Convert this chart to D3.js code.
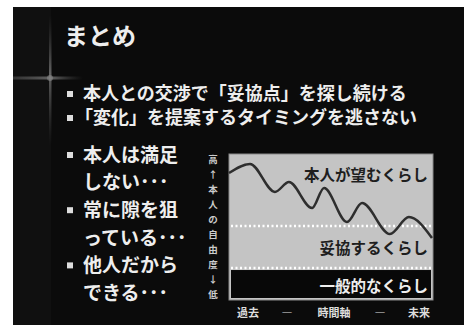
<!DOCTYPE html>
<html>
<head>
<meta charset="utf-8">
<script src="https://cdn.jsdelivr.net/npm/d3@7"></script>
<style>
  html, body { margin: 0; padding: 0; background: #fff; }
  svg { display: block; }
</style>
</head>
<body>
<div id="chart"></div>
<script>
// slide text
const titleText = 'まとめ';
const topBullets = ['本人との交渉で「妥協点」を探し続ける', '「変化」を提案するタイミングを逃さない'];
const sideLines = ['本人は満足', 'しない･･･', '常に隙を狙', 'っている･･･', '他人だから', 'できる･･･'];
const sideBullet = [true, false, true, false, true, false];

// chart: freedom of the person over time
const timeValues    = [0, 10.3, 22.5, 29.4, 40.7, 46.6, 57.8, 65.2, 78.9, 88.2, 99.5];
const freedomValues = [87, 93.2, 74, 80.8, 63, 76.7, 53.4, 66.4, 45.2, 56.8, 42.5];
const bandLevels = [50.7, 21.9];
const bandLabels = ['本人が望むくらし', '妥協するくらし', '一般的なくらし'];
const bandLabelLevels = [85, 35, 9];
const xAxisLabels = ['過去', '―', '時間軸', '―', '未来'];
const xAxisLabelTimes = [9.3, 28.4, 51.5, 74, 93.1];
const yAxisChars = ['高', '↑', '本', '人', 'の', '自', '由', '度', '↓', '低'];

const W = 464, H = 328;
const font = '"Noto Sans CJK JP", "Noto Sans", sans-serif';

const svg = d3.select('#chart').append('svg')
    .attr('width', W)
    .attr('height', H)
    .style('font-family', font);

// slide background
svg.append('rect').attr('x', 13).attr('y', 7).attr('width', W - 13).attr('height', 318).attr('fill', '#0b0b0b');
svg.append('rect').attr('x', 13).attr('y', 7).attr('width', 38).attr('height', 318).attr('fill', '#101010');

// lens flare cross
const defs = svg.append('defs');
const gh = defs.append('linearGradient').attr('id', 'gh').attr('x1', 0).attr('x2', 1).attr('y1', 0).attr('y2', 0);
gh.append('stop').attr('offset', 0).attr('stop-color', '#555').attr('stop-opacity', 0.5);
gh.append('stop').attr('offset', 0.55).attr('stop-color', '#777').attr('stop-opacity', 0.8);
gh.append('stop').attr('offset', 1).attr('stop-color', '#444').attr('stop-opacity', 0);
const gv = defs.append('linearGradient').attr('id', 'gv').attr('x1', 0).attr('x2', 0).attr('y1', 0).attr('y2', 1);
gv.append('stop').attr('offset', 0).attr('stop-color', '#444').attr('stop-opacity', 0);
gv.append('stop').attr('offset', 0.45).attr('stop-color', '#777').attr('stop-opacity', 0.8);
gv.append('stop').attr('offset', 1).attr('stop-color', '#444').attr('stop-opacity', 0);
svg.append('rect').attr('x', 13).attr('y', 76.5).attr('width', 70).attr('height', 3).attr('fill', 'url(#gh)');
svg.append('rect').attr('x', 49).attr('y', 15).attr('width', 2.5).attr('height', 130).attr('fill', 'url(#gv)');
svg.append('circle').attr('cx', 50).attr('cy', 78).attr('r', 3).attr('fill', '#888').attr('opacity', 0.6);

// title
svg.append('text')
    .attr('x', 64).attr('y', 45)
    .attr('fill', '#eee')
    .attr('font-size', 24).attr('font-weight', 'bold')
    .text(titleText);

// bullets
const bulletText = svg.append('g').attr('fill', '#eee').attr('font-weight', 'bold');
topBullets.forEach((t, i) => {
    const y = 94 + i * 24;
    bulletText.append('rect').attr('x', 67).attr('y', y - 3).attr('width', 6).attr('height', 6).attr('fill', '#ddd');
    bulletText.append('text')
        .attr('x', i === 0 ? 83 : 75).attr('y', y)
        .attr('dy', '0.36em')
        .attr('font-size', 18)
        .text(t);
});
sideLines.forEach((t, i) => {
    const y = 155 + i * 27.6;
    if (sideBullet[i]) {
        bulletText.append('rect').attr('x', 67).attr('y', y - 3).attr('width', 6).attr('height', 6).attr('fill', '#ddd');
    }
    bulletText.append('text')
        .attr('x', 83).attr('y', y)
        .attr('dy', '0.36em')
        .attr('font-size', 19)
        .text(t);
});

// chart
const plot = {left: 229, right: 433, top: 154, bottom: 300};
const x = d3.scaleLinear().domain([0, 100]).range([plot.left, plot.right]);
const y = d3.scaleLinear().domain([0, 100]).range([plot.bottom, plot.top]);

const chart = svg.append('g');
chart.append('rect')
    .attr('x', x(0)).attr('y', y(100))
    .attr('width', x(100) - x(0)).attr('height', y(0) - y(100))
    .attr('fill', '#c4c4c4')
    .attr('stroke', '#8a8a8a').attr('stroke-width', 1);
chart.append('rect')
    .attr('x', x(0) + 2).attr('y', y(bandLevels[1]) + 2)
    .attr('width', x(100) - x(0) - 4).attr('height', y(0) - y(bandLevels[1]) - 4)
    .attr('fill', '#080808');

chart.selectAll('line.level')
    .data(bandLevels)
    .join('line')
    .attr('class', 'level')
    .attr('x1', x(0) + 2).attr('x2', x(100) - 2)
    .attr('y1', d => y(d)).attr('y2', d => y(d))
    .attr('stroke', '#fff')
    .attr('stroke-width', 2.5)
    .attr('stroke-dasharray', '2 2.5');

const line = d3.line()
    .x((d, i) => x(timeValues[i]))
    .y(d => y(d))
    .curve(d3.curveMonotoneX);
chart.append('path')
    .datum(freedomValues)
    .attr('d', line)
    .attr('fill', 'none')
    .attr('stroke', '#2e2e2e')
    .attr('stroke-width', 2.5);

chart.selectAll('text.band')
    .data(bandLabels)
    .join('text')
    .attr('class', 'band')
    .attr('x', x(100) - 5)
    .attr('y', (d, i) => y(bandLabelLevels[i]))
    .attr('dy', '0.36em')
    .attr('text-anchor', 'end')
    .attr('font-size', 15.5)
    .attr('font-weight', 'bold')
    .attr('fill', (d, i) => i === 2 ? '#eee' : '#1e1e1e')
    .text(d => d);

// time axis labels
chart.selectAll('text.xlab')
    .data(xAxisLabels)
    .join('text')
    .attr('class', 'xlab')
    .attr('x', (d, i) => x(xAxisLabelTimes[i]))
    .attr('y', 313)
    .attr('dy', '0.36em')
    .attr('text-anchor', 'middle')
    .attr('font-size', 11)
    .attr('font-weight', 'bold')
    .attr('fill', '#ddd')
    .text(d => d);

// vertical freedom label
const yc = d3.scalePoint().domain(d3.range(yAxisChars.length)).range([160, 295]);
chart.selectAll('text.ylab')
    .data(yAxisChars)
    .join('text')
    .attr('class', 'ylab')
    .attr('x', 213)
    .attr('y', (d, i) => yc(i))
    .attr('dy', '0.36em')
    .attr('text-anchor', 'middle')
    .attr('font-size', 9.5)
    .attr('font-weight', 'bold')
    .attr('fill', '#ccc')
    .text(d => d);

// white page margins
svg.append('rect').attr('x', 0).attr('y', 0).attr('width', W).attr('height', 7).attr('fill', '#fff');
svg.append('rect').attr('x', 0).attr('y', 0).attr('width', 13).attr('height', H).attr('fill', '#fff');
svg.append('rect').attr('x', 0).attr('y', 325).attr('width', W).attr('height', 3).attr('fill', '#fff');
</script>
</body>
</html>
